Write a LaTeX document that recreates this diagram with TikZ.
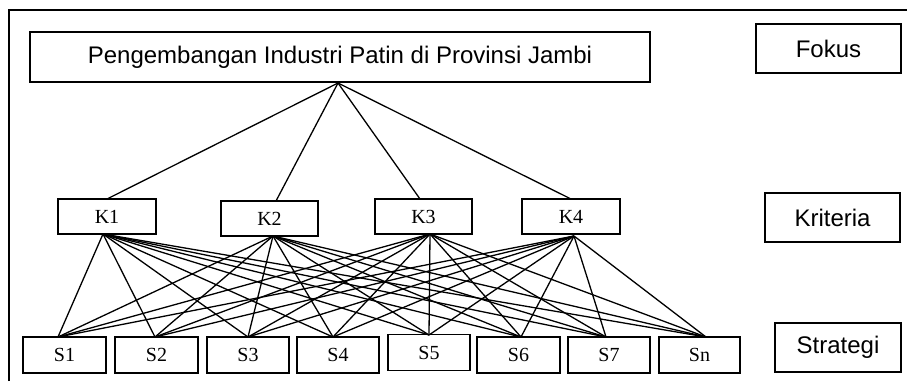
\documentclass[tikz,border=0pt]{standalone}
\usepackage{fontspec}
\setmainfont{Liberation Serif}
\newfontfamily\arialf{Liberation Sans}
\begin{document}
\begin{tikzpicture}[x=1pt,y=-1pt,
  box/.style={draw,line width=1.2pt,inner sep=0pt},
  sansbox/.style={box,font=\arialf\fontsize{24}{26}\selectfont},
  serifbox/.style={box,font=\fontsize{20}{22}\selectfont},
  link/.style={line width=1.3pt}]
\useasboundingbox (0,0) rectangle (907,381);
\draw[line width=1.5pt] (9,381) -- (9,10) -- (907,10);
% focus
\node[sansbox,minimum width=620,minimum height=50] (goal) at (340,57) {Pengembangan Industri Patin di Provinsi Jambi};
\node[sansbox,minimum width=145,minimum height=49] (fokus) at (828.5,48.5) {Fokus};
\node[sansbox,minimum width=135,minimum height=49] (krit) at (832.5,217.5) {Kriteria};
\node[sansbox,minimum width=126,minimum height=49] (strat) at (838,347.5) {Strategi};
% criteria
\node[serifbox,minimum width=98,minimum height=35] (k1) at (107,216.5) {K1};
\node[serifbox,minimum width=97,minimum height=35] (k2) at (269.5,218.5) {K2};
\node[serifbox,minimum width=97,minimum height=35] (k3) at (423.5,216.5) {K3};
\node[serifbox,minimum width=98,minimum height=35] (k4) at (571,216.5) {K4};
% strategies
\node[serifbox,minimum width=83,minimum height=36] (s1) at (64.5,355) {S1};
\node[serifbox,minimum width=83,minimum height=36] (s2) at (156.5,355) {S2};
\node[serifbox,minimum width=82,minimum height=36] (s3) at (248,355) {S3};
\node[serifbox,minimum width=82,minimum height=36] (s4) at (338,355) {S4};
\node[serifbox,minimum width=82,minimum height=36] (s5) at (429,352.5) {S5};
\node[serifbox,minimum width=83,minimum height=36] (s6) at (518.5,355) {S6};
\node[serifbox,minimum width=82,minimum height=36] (s7) at (609,355) {S7};
\node[serifbox,minimum width=81,minimum height=36] (sn) at (699.5,355) {Sn};
% attachment points
\coordinate (g) at (338,83);
\coordinate (k1t) at (107,199);
\coordinate (k2t) at (276,201);
\coordinate (k3t) at (420,199);
\coordinate (k4t) at (571,199);
\coordinate (k1b) at (103,234);
\coordinate (k2b) at (273,236);
\coordinate (k3b) at (430,234);
\coordinate (k4b) at (574,236);
\coordinate (s1t) at (58,337);
\coordinate (s2t) at (155,337);
\coordinate (s3t) at (248,337);
\coordinate (s4t) at (333,337);
\coordinate (s5t) at (429,335);
\coordinate (s6t) at (521,337);
\coordinate (s7t) at (606,337);
\coordinate (snt) at (706,337);
\foreach \k in {k1t,k2t,k3t,k4t} \draw[link] (g) -- (\k);
\foreach \k in {k1b,k2b,k3b,k4b}
  \foreach \s in {s1t,s2t,s3t,s4t,s5t,s6t,s7t,snt}
    \draw[link] (\k) -- (\s);
\end{tikzpicture}
\end{document}
